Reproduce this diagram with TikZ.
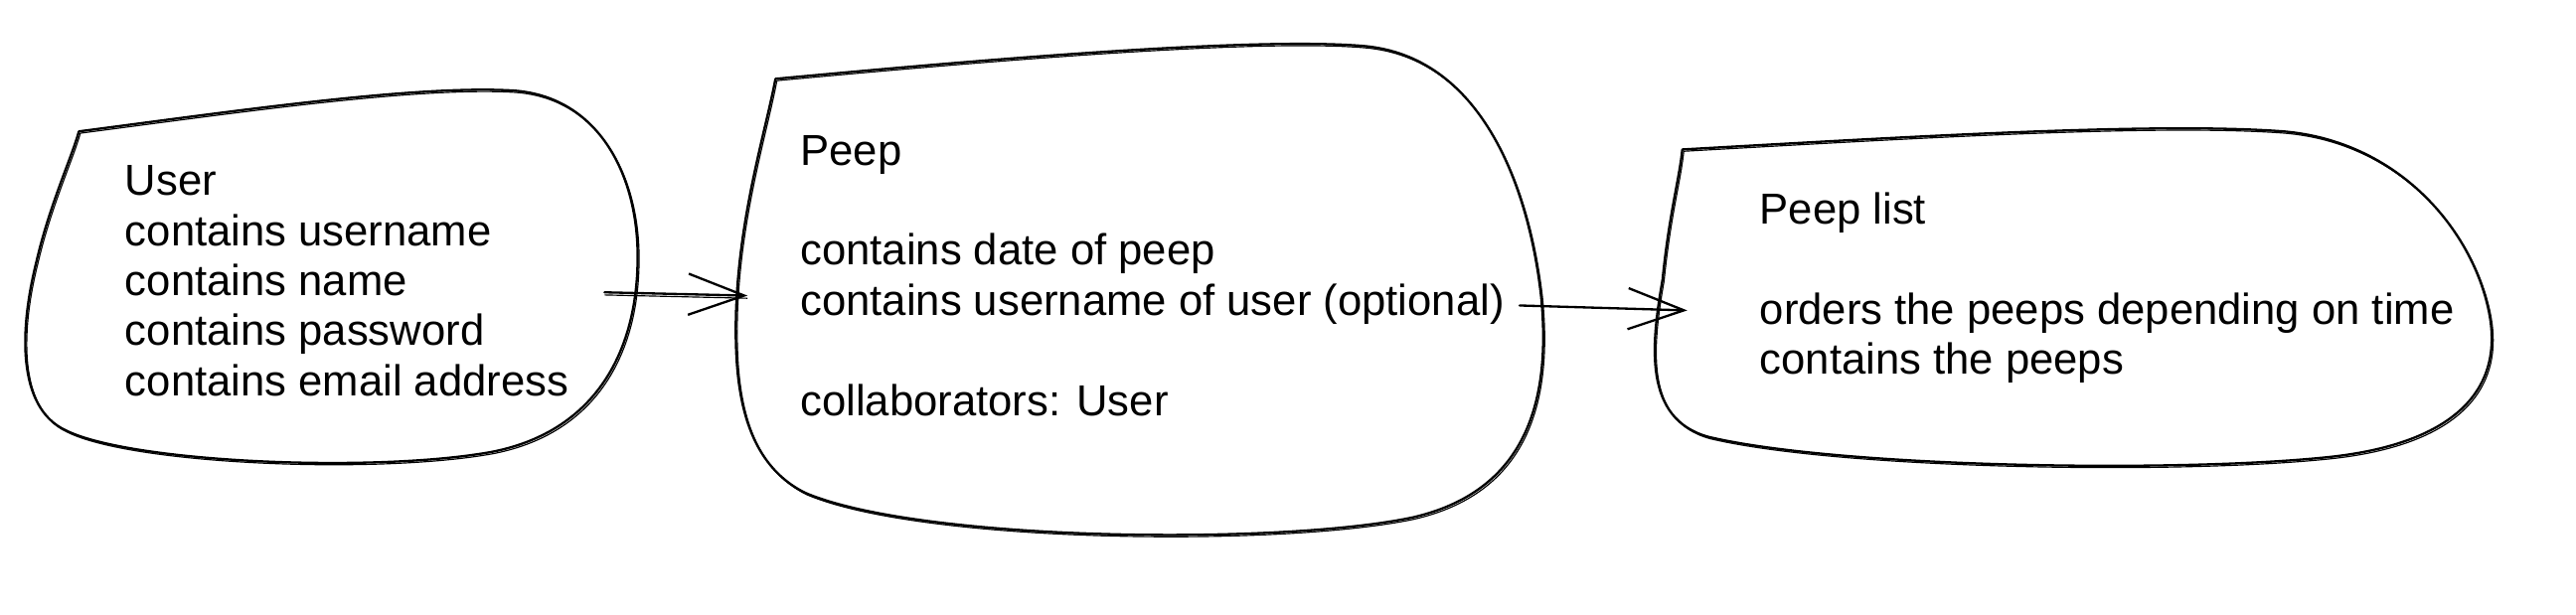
\documentclass[tikz,border=0pt]{standalone}
\usepackage{fontspec}
\setmainfont{Liberation Sans}
\usetikzlibrary{arrows.meta}
\tikzset{
  sketch/.style={draw=black, line width=1.4pt, line join=round, line cap=round},
  sketchtwo/.style={draw=black, line width=0.7pt, line join=round, line cap=round},
  label/.style={inner sep=0pt, align=left, anchor=base west, font=\fontsize{26.4}{30.5}\selectfont},
  conn/.style={line width=1.4pt, line cap=round, -{Straight Barb[length=34pt,width=25pt,line width=1.4pt]}},
}
\begin{document}
\begin{tikzpicture}[x=1pt,y=-1pt]
\useasboundingbox (0,0) rectangle (1568,374);
% User shape
\def\usershape{(48,80) .. controls (140,68) and (250,52) .. (310,55) .. controls (360,57) and (386,100) .. (388,150) .. controls (390,210) and (365,262) .. (300,275) .. controls (230,288) and (80,282) .. (40,262) .. controls (10,248) and (12,200) .. (22,160) .. controls (30,125) and (44,95) .. (48,80)}
\path[sketch] \usershape;
\path[sketchtwo, shift={(0.9,1.1)}] \usershape;
% Peep shape
\def\peepshape{(472,48) .. controls (580,38) and (760,22) .. (830,28) .. controls (900,34) and (930,110) .. (938,180) .. controls (945,250) and (925,300) .. (860,315) .. controls (780,332) and (560,330) .. (490,300) .. controls (450,280) and (447,230) .. (448,190) .. controls (450,130) and (466,80) .. (472,48)}
\path[sketch] \peepshape;
\path[sketchtwo, shift={(0.9,1.1)}] \peepshape;
% Peep list shape
\def\listshape{(1024,91) .. controls (1150,84) and (1310,74) .. (1390,80) .. controls (1460,86) and (1505,140) .. (1515,190) .. controls (1525,240) and (1490,270) .. (1420,278) .. controls (1330,288) and (1120,285) .. (1040,266) .. controls (1000,255) and (1005,210) .. (1012,170) .. controls (1016,130) and (1022,110) .. (1024,91)}
\path[sketch] \listshape;
\path[sketchtwo, shift={(0.9,1.1)}] \listshape;

% texts (base anchor = baseline of the last line)
\node[label] (user) at (76,241) {User\\contains username\\contains name\\contains password\\contains email address};
\node[label] (peep) at (487,253) {Peep\\[30.5pt]contains date of peep\\contains username of user (optional)\\[30.5pt]collaborators: User};
\node[label] (list) at (1071,228) {Peep list\\[30.5pt]orders the peeps depending on time\\contains the peeps};

% connectors
\coordinate (a1s) at (368,178);
\coordinate (a1e) at (455,180);
\coordinate (a2s) at (925,186);
\coordinate (a2e) at (1027,189);
\draw[conn] (a1s) -- (a1e);
\draw[line width=0.7pt] ([yshift=-1.6pt]a1s) -- ([yshift=-1.6pt]a1e);
\draw[conn] (a2s) -- (a2e);
\end{tikzpicture}
\end{document}
